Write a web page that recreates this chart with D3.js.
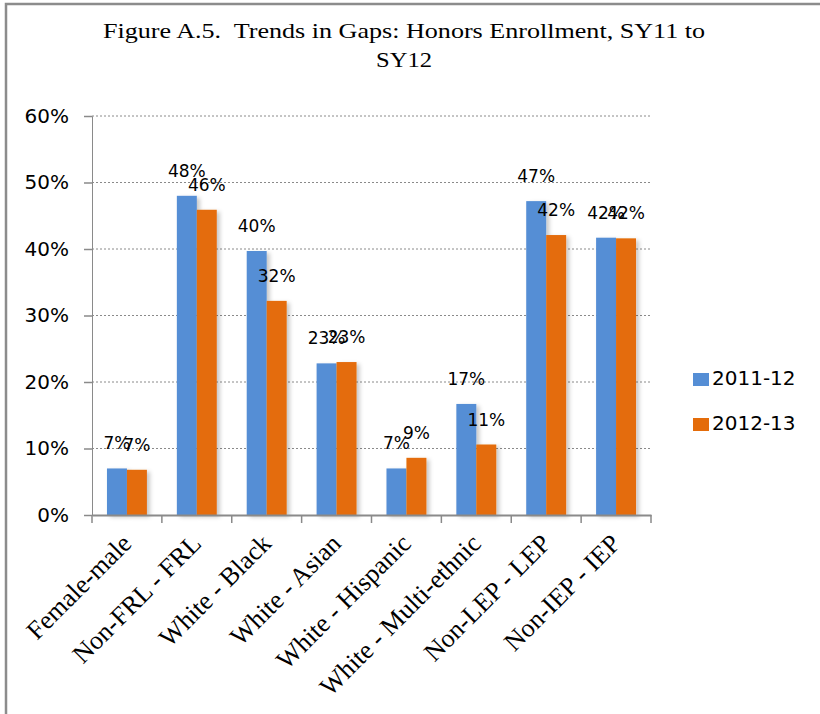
<!DOCTYPE html>
<html>
<head>
<meta charset="utf-8">
<script src="https://cdn.jsdelivr.net/npm/d3@7"></script>
<style>
  body { margin: 0; background: #fff; }
  svg { display: block; }
</style>
</head>
<body>
<svg id="chart" width="820" height="714"></svg>
<script>
// chart data
const categories = ['Female-male', 'Non-FRL - FRL', 'White - Black', 'White - Asian',
    'White - Hispanic', 'White - Multi-ethnic', 'Non-LEP - LEP', 'Non-IEP - IEP'];
const seriesNames = ['2011-12', '2012-13'];
const values2011 = [7.0, 48.0, 39.7, 22.8, 7.0, 16.7, 47.2, 41.7];
const values2012 = [6.8, 45.9, 32.2, 23.0, 8.6, 10.6, 42.1, 41.6];
const yTicks = [0, 10, 20, 30, 40, 50, 60];
const titleLines = ['Figure A.5.  Trends in Gaps: Honors Enrollment, SY11 to', 'SY12'];

const colors = ['#558ed5', '#e46c0a'];

const svg = d3.select('#chart');
const margin = {top: 116, left: 92, right: 169, bottom: 199};
const width = 820 - margin.left - margin.right,
      height = 714 - margin.top - margin.bottom;

// frame round the chart area
svg.append('path')
    .attr('d', 'M6,714 L6,4 L820,4')
    .attr('fill', 'none')
    .attr('stroke', '#8c8c8c')
    .attr('stroke-width', 2.5);

const defs = svg.append('defs');
const shadow = defs.append('filter').attr('id', 'shadow')
    .attr('x', '-20%').attr('y', '-5%').attr('width', '160%').attr('height', '120%');
shadow.append('feDropShadow')
    .attr('dx', 3).attr('dy', 2)
    .attr('stdDeviation', 2)
    .attr('flood-color', '#000')
    .attr('flood-opacity', 0.22);

// title (the original font is a wide garamond, so stretch the lines to fit)
const titleWidths = [602, 56];
svg.append('g').selectAll('text')
    .data(titleLines)
    .join('text')
        .attr('x', 404)
        .attr('y', (d, i) => 38 + i * 29)
        .attr('text-anchor', 'middle')
        .attr('font-family', '"Liberation Serif", serif')
        .attr('font-size', '21px')
        .attr('textLength', (d, i) => titleWidths[i])
        .attr('lengthAdjust', 'spacingAndGlyphs')
        .style('white-space', 'pre')
        .text(d => d);

const g = svg.append('g')
    .attr('transform', `translate(${margin.left},${margin.top})`);

const x0 = d3.scaleBand().domain(categories).range([0, width]).padding(0);
const x1 = d3.scaleBand().domain(seriesNames).range([0, x0.bandwidth()])
    .paddingInner(0).paddingOuter(0.75);
const y = d3.scaleLinear().domain([0, 60]).range([height, 0]);

// gridlines
g.append('g').selectAll('line')
    .data(yTicks.filter(d => d > 0))
    .join('line')
        .attr('x1', 0).attr('x2', width)
        .attr('y1', d => y(d)).attr('y2', d => y(d))
        .attr('stroke', '#8a8a8a')
        .attr('stroke-dasharray', '2,2');

// y axis
const yAxis = g.append('g')
    .call(d3.axisLeft(y).tickValues(yTicks).tickSize(8).tickPadding(15).tickFormat(d => d + '%'));
yAxis.select('.domain').attr('stroke', '#8a8a8a');
yAxis.selectAll('.tick line').attr('stroke', '#8a8a8a').attr('stroke-width', 1.5);
yAxis.selectAll('text')
    .attr('font-family', '"DejaVu Sans", sans-serif')
    .attr('font-size', '20px')
    .attr('fill', '#000');

// bars
const series = seriesNames.map((name, i) => ({
    name: name,
    color: colors[i],
    values: (i === 0 ? values2011 : values2012)
}));

const groups = g.append('g').selectAll('g')
    .data(categories)
    .join('g')
        .attr('transform', d => `translate(${x0(d)},0)`);

groups.selectAll('rect')
    .data((d, ci) => series.map(s => ({series: s.name, color: s.color, value: s.values[ci]})))
    .join('rect')
        .attr('x', d => x1(d.series))
        .attr('y', d => y(d.value))
        .attr('width', x1.bandwidth())
        .attr('height', d => height - y(d.value))
        .attr('fill', d => d.color)
        .attr('filter', 'url(#shadow)');

// value labels
groups.selectAll('text')
    .data((d, ci) => series.map(s => ({series: s.name, value: s.values[ci]})))
    .join('text')
        .attr('x', d => x1(d.series) + x1.bandwidth() / 2)
        .attr('y', d => y(d.value) - 19)
        .attr('text-anchor', 'middle')
        .attr('font-family', '"DejaVu Sans", sans-serif')
        .attr('font-size', '17px')
        .text(d => Math.round(d.value) + '%');

// x axis
const xAxis = g.append('g')
    .attr('transform', `translate(0,${height})`)
    .call(d3.axisBottom(x0).tickSize(0).tickFormat(''));
xAxis.select('.domain').attr('stroke', '#8a8a8a').attr('stroke-width', 2);

// ticks sit on the category boundaries
xAxis.append('g').selectAll('line')
    .data(d3.range(categories.length + 1))
    .join('line')
        .attr('x1', d => d * x0.step()).attr('x2', d => d * x0.step())
        .attr('y1', 0).attr('y2', 8)
        .attr('stroke', '#8a8a8a')
        .attr('stroke-width', 1.5);

xAxis.append('g').selectAll('text')
    .data(categories)
    .join('text')
        .attr('transform', d => `translate(${x0(d) + x0.bandwidth() / 2 + 6},30) rotate(-45)`)
        .attr('text-anchor', 'end')
        .attr('font-family', '"Liberation Serif", serif')
        .attr('font-size', '26px')
        .attr('fill', '#000')
        .text(d => d);

// legend
const legend = svg.append('g')
    .attr('transform', 'translate(693,373)');
const items = legend.selectAll('g')
    .data(series)
    .join('g')
        .attr('transform', (d, i) => `translate(0,${i * 45})`);
items.append('rect')
    .attr('width', 16).attr('height', 13)
    .attr('fill', d => d.color);
items.append('text')
    .attr('x', 19).attr('y', 12)
    .attr('font-family', '"DejaVu Sans", sans-serif')
    .attr('font-size', '20px')
    .text(d => d.name);
</script>
</body>
</html>
